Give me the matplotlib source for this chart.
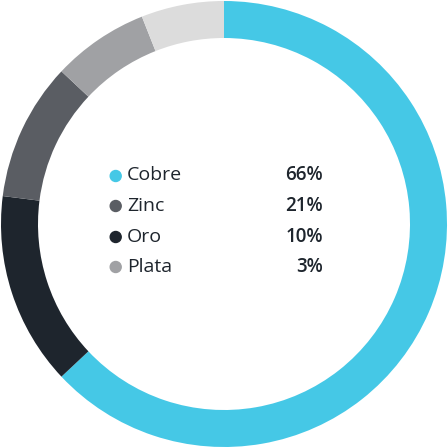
import matplotlib
matplotlib.use("Agg")
import matplotlib.pyplot as plt

# ring segments, clockwise from 12 o'clock
seg_values = [63, 14, 10, 7, 6]
seg_colors = ["#45C8E6", "#1E252D", "#5A5D63", "#A0A1A4", "#DCDCDC"]

# legend block
labels = ["Cobre", "Zinc", "Oro", "Plata"]
percents = ["66%", "21%", "10%", "3%"]
dot_colors = ["#45C8E6", "#5A5D63", "#1E252D", "#A0A1A4"]

W = 448
fig = plt.figure(figsize=(4.48, 4.48), dpi=100)
ax = fig.add_axes([0, 0, 1, 1])
ax.pie(seg_values, colors=seg_colors, startangle=90, counterclock=False,
       radius=1.0, wedgeprops=dict(width=37 / 223, linewidth=0))
lim = 224 / 223
ax.set_xlim(-lim, lim)
ax.set_ylim(-lim, lim)
ax.set_aspect("equal")
ax.axis("off")

txt_color = "#1E252D"
rows_y = [176, 206, 237, 267]
for i in range(len(labels)):
    y = 1 - rows_y[i] / W
    fig.patches.append(plt.Circle((115.7 / W, y), 5.5 / W, color=dot_colors[i],
                                  transform=fig.transFigure, figure=fig))
    fig.text(127 / W, y + 0.5 / W, labels[i], fontsize=14, color=txt_color,
             family="Open Sans", va="center", ha="left")
    fig.text(323 / W, y + 0.5 / W, percents[i], fontsize=13.5, color=txt_color,
             family="Open Sans", weight="semibold", va="center", ha="right")

fig.savefig("out.png", dpi=100, facecolor="white")
